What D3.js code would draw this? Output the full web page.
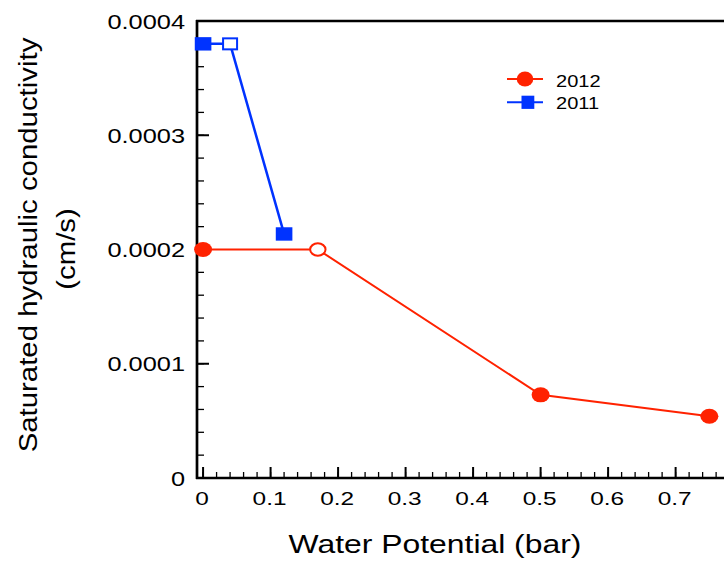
<!DOCTYPE html>
<html>
<head>
<meta charset="utf-8">
<script src="https://cdn.jsdelivr.net/npm/d3@7"></script>
<style>
  body { margin: 0; background: #fff; }
  svg { display: block; }
  text { font-family: "Liberation Sans", Arial, Helvetica, sans-serif; fill: #000; }
</style>
</head>
<body>
<svg id="chart" width="724" height="563"></svg>
<script>
// Saturated hydraulic conductivity vs water potential
const potential2012 = [0, 0.17, 0.5, 0.75];
const ksat2012      = [0.0002, 0.0002, 0.0000728, 0.000054];
const filled2012    = [true, false, true, true];

const potential2011 = [0, 0.04, 0.12];
const ksat2011      = [0.00038, 0.00038, 0.0002136];
const filled2011    = [true, false, true];

const xTicks = [0, 0.1, 0.2, 0.3, 0.4, 0.5, 0.6, 0.7];
const xTickLabels = ["0", "0.1", "0.2", "0.3", "0.4", "0.5", "0.6", "0.7"];
const yTicks = [0, 0.0001, 0.0002, 0.0003, 0.0004];
const yTickLabels = ["0", "0.0001", "0.0002", "0.0003", "0.0004"];

const red = "#ff2200";
const blue = "#0033ff";

const svg = d3.select("#chart");
const plotLeft = 197, plotTop = 21, plotBottom = 478, plotRight = 760;

const x = d3.scaleLinear().domain([-0.009, 0.825]).range([plotLeft, plotRight]);
const y = d3.scaleLinear().domain([0, 0.0004]).range([plotBottom, plotTop]);

// frame
svg.append("line").attr("x1", plotLeft).attr("x2", plotLeft).attr("y1", plotTop - 1).attr("y2", plotBottom + 1)
  .attr("stroke", "#000").attr("stroke-width", 2.7);
svg.append("line").attr("x1", plotLeft - 1).attr("x2", plotRight).attr("y1", plotTop).attr("y2", plotTop)
  .attr("stroke", "#000").attr("stroke-width", 2.5);
svg.append("line").attr("x1", plotLeft - 1).attr("x2", plotRight).attr("y1", plotBottom).attr("y2", plotBottom)
  .attr("stroke", "#000").attr("stroke-width", 2.5);

// x ticks (inward)
const xMinor = d3.range(0, 0.821, 0.02).map(v => +v.toFixed(2));
const gx = svg.append("g");
gx.selectAll("line.minor").data(xMinor).join("line")
  .attr("x1", d => x(d)).attr("x2", d => x(d))
  .attr("y1", plotBottom).attr("y2", plotBottom - 6)
  .attr("stroke", "#000").attr("stroke-width", 1.3);
gx.selectAll("line.major").data(xTicks).join("line")
  .attr("x1", d => x(d)).attr("x2", d => x(d))
  .attr("y1", plotBottom).attr("y2", plotBottom - 11)
  .attr("stroke", "#000").attr("stroke-width", 2);
gx.selectAll("text").data(xTicks).join("text")
  .attr("transform", d => `translate(${x(d) - 1},${plotBottom + 27}) scale(1.32,1)`)
  .attr("text-anchor", "middle").attr("font-size", 18.5)
  .text((d, i) => xTickLabels[i]);

// y ticks (inward)
const yMinor = d3.range(0, 0.00040001, 0.00002);
const gy = svg.append("g");
gy.selectAll("line.minor").data(yMinor).join("line")
  .attr("x1", plotLeft).attr("x2", plotLeft + 7)
  .attr("y1", d => y(d)).attr("y2", d => y(d))
  .attr("stroke", "#000").attr("stroke-width", 1.3);
gy.selectAll("line.major").data(yTicks).join("line")
  .attr("x1", plotLeft).attr("x2", plotLeft + 12)
  .attr("y1", d => y(d)).attr("y2", d => y(d))
  .attr("stroke", "#000").attr("stroke-width", 2);
gy.selectAll("text").data(yTicks).join("text")
  .attr("transform", d => `translate(185,${y(d) + 7.5}) scale(1.3,1)`)
  .attr("text-anchor", "end").attr("font-size", 19.5)
  .text((d, i) => yTickLabels[i]);

// axis titles
svg.append("text").attr("transform", "translate(435,553) scale(1.25,1)")
  .attr("text-anchor", "middle").attr("font-size", 25.5)
  .text("Water Potential (bar)");
svg.append("text").attr("transform", "translate(37,245) rotate(-90) scale(1.13,1)")
  .attr("text-anchor", "middle").attr("font-size", 26)
  .text("Saturated hydraulic conductivity");
svg.append("text").attr("transform", "translate(74.5,249) rotate(-90) scale(1.13,1)")
  .attr("text-anchor", "middle").attr("font-size", 26)
  .text("(cm/s)");

const line = d3.line().x(d => x(d[0])).y(d => y(d[1]));

// 2012 series
const pts2012 = potential2012.map((p, i) => [p, ksat2012[i], filled2012[i]]);
svg.append("path").datum(pts2012).attr("d", line)
  .attr("fill", "none").attr("stroke", red).attr("stroke-width", 2);
svg.selectAll("ellipse.s2012").data(pts2012).join("ellipse")
  .attr("cx", d => x(d[0])).attr("cy", d => y(d[1]))
  .attr("rx", d => d[2] ? 9 : 7.7).attr("ry", d => d[2] ? 7.5 : 6.2)
  .attr("fill", d => d[2] ? red : "#fff")
  .attr("stroke", red).attr("stroke-width", d => d[2] ? 0 : 2);

// 2011 series
const pts2011 = potential2011.map((p, i) => [p, ksat2011[i], filled2011[i]]);
svg.append("path").datum(pts2011).attr("d", line)
  .attr("fill", "none").attr("stroke", blue).attr("stroke-width", 2.5);
svg.selectAll("rect.s2011").data(pts2011).join("rect")
  .attr("x", d => x(d[0]) - (d[2] ? 8.3 : 7)).attr("y", d => y(d[1]) - (d[2] ? 6.7 : 5.5))
  .attr("width", d => d[2] ? 16.6 : 14).attr("height", d => d[2] ? 13.4 : 11)
  .attr("fill", d => d[2] ? blue : "#fff")
  .attr("stroke", blue).attr("stroke-width", d => d[2] ? 0 : 2);

// legend
const legend = [
  { label: "2012", color: red, shape: "circle", yy: 79, ty: 86.7 },
  { label: "2011", color: blue, shape: "square", yy: 102.3, ty: 109 }
];
const lg = svg.append("g");
legend.forEach(l => {
  lg.append("line").attr("x1", 507).attr("x2", 543).attr("y1", l.yy).attr("y2", l.yy)
    .attr("stroke", l.color).attr("stroke-width", 2);
  if (l.shape === "circle") {
    lg.append("ellipse").attr("cx", 525).attr("cy", l.yy).attr("rx", 8.3).attr("ry", 7.5).attr("fill", l.color);
  } else {
    lg.append("rect").attr("x", 521.5).attr("y", l.yy - 6.6).attr("width", 12.8).attr("height", 13.2).attr("fill", l.color);
  }
  lg.append("text").attr("transform", `translate(556,${l.ty}) scale(1.23,1)`)
    .attr("font-size", 16.3).text(l.label);
});
</script>
</body>
</html>
